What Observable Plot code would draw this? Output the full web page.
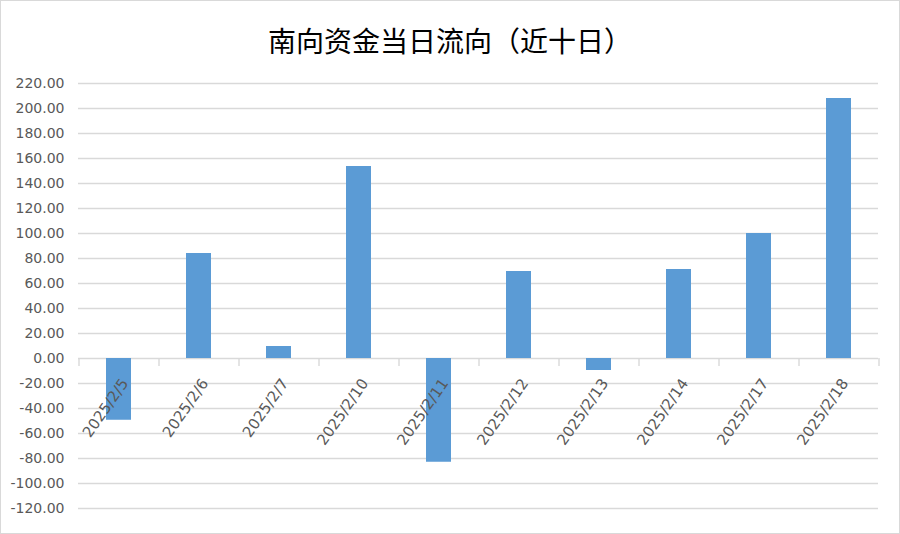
<!DOCTYPE html>
<html><head><meta charset="utf-8">
<script src="https://cdn.jsdelivr.net/npm/d3@7"></script>
<script src="https://cdn.jsdelivr.net/npm/@observablehq/plot@0.6"></script>
<style>
body{margin:0;background:#fff;}
#wrap{position:relative;width:898px;height:532px;border:1px solid #d9d9d9;background:#fff;overflow:hidden;}
#title{position:absolute;left:0;top:25px;width:898px;text-align:center;font-family:"Noto Sans CJK SC";font-size:28px;line-height:28px;color:#000;}
#chart{position:absolute;left:0;top:62px;}
</style></head><body>
<div id="wrap"><div id="title">南向资金当日流向（近十日）</div><div id="chart"></div></div>
<script>
const dates = ["2025/2/5","2025/2/6","2025/2/7","2025/2/10","2025/2/11","2025/2/12","2025/2/13","2025/2/14","2025/2/17","2025/2/18"];
const flows = [-49.4, 84.0, 9.6, 153.6, -83.0, 69.6, -9.6, 71.2, 100.0, 208.0];
const yTicks = [-120,-100,-80,-60,-40,-20,0,20,40,60,80,100,120,140,160,180,200,220];

const W = 898, H = 470, mL = 77, mR = 21, mT = 20, mB = 25;
const yMin = -120, yMax = 220;
const step = (W - mL - mR) / dates.length;
const pxPerUnit = (H - mT - mB) / (yMax - yMin);
const tickLen = 8 / pxPerUnit;
const data = dates.map((d, i) => ({date: d, flow: flows[i]}));

const plot = Plot.plot({
  width: W, height: H,
  marginLeft: mL, marginRight: mR, marginTop: mT, marginBottom: mB,
  style: {fontFamily: "DejaVu Sans", fontSize: "14px", color: "#595959", background: "transparent"},
  x: {type: "band", domain: dates, paddingInner: 0.6875, paddingOuter: 0.34375, axis: null},
  y: {domain: [yMin, yMax], ticks: yTicks, tickSize: 0, tickPadding: 14, tickFormat: v => v.toFixed(2), label: null},
  marks: [
    Plot.ruleY(yTicks, {stroke: "#d9d9d9", strokeWidth: 1.4}),
    Plot.ruleX(dates, {x: d => d, y1: 0, y2: -tickLen, stroke: "#d9d9d9", strokeWidth: 1.4, dx: -step / 2}),
    Plot.ruleX([dates[dates.length - 1]], {x: d => d, y1: 0, y2: -tickLen, stroke: "#d9d9d9", strokeWidth: 1.4, dx: step / 2}),
    Plot.barY(data, {x: "date", y: "flow", fill: "#5b9bd5"}),
    Plot.text(data, {x: "date", y: () => 0, text: "date", rotate: -55, textAnchor: "end", dx: 6, dy: 22, fill: "#595959", fontSize: 15})
  ]
});
document.getElementById("chart").appendChild(plot);
</script>
</body></html>
